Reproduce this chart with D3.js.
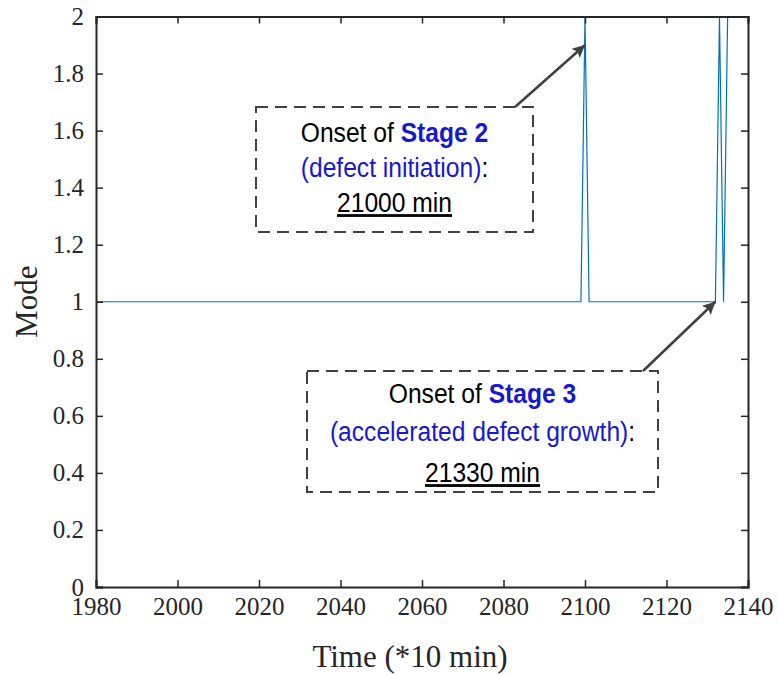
<!DOCTYPE html>
<html>
<head>
<meta charset="utf-8">
<script src="https://cdn.jsdelivr.net/npm/d3@7"></script>
<style>
  html, body { margin: 0; padding: 0; background: #fff; }
  svg { display: block; }
</style>
</head>
<body>
<svg id="chart" width="778" height="675"></svg>
<script>
// Operating mode of the monitored machine over time (sampled every 10 min)
const times = [1980, 2099, 2100, 2101, 2132, 2133, 2134, 2135, 2136];
const modes = [1, 1, 2, 1, 1, 2, 1, 2, 2];

const xTicks = [1980, 2000, 2020, 2040, 2060, 2080, 2100, 2120, 2140];
const yTicks = [0, 0.2, 0.4, 0.6, 0.8, 1, 1.2, 1.4, 1.6, 1.8, 2];

// Stage onsets pointed at by the callouts
const onsetTimes = [2100, 2132];
const onsetModes = [1.9, 1.0];
const stageNames = ["Stage 2", "Stage 3"];
const stageDescs = ["(defect initiation)", "(accelerated defect growth)"];
const onsetLabels = ["21000 min", "21330 min"];

const W = 778, H = 675;
const m = { left: 96, right: 30, top: 16.5, bottom: 88 };
const svg = d3.select("#chart");

const x = d3.scaleLinear().domain([1980, 2140]).range([m.left, W - m.right]);
const y = d3.scaleLinear().domain([0, 2]).range([H - m.bottom, m.top]);

const axisColor = "#262626";
const serif = "Liberation Serif, Times New Roman, serif";
const sans = "Liberation Sans, Arial, sans-serif";

// data line
const line = d3.line().x((d, i) => x(times[i])).y(d => y(d));
svg.append("path")
  .datum(modes)
  .attr("d", line)
  .attr("fill", "none")
  .attr("stroke", "#0072BD")
  .attr("stroke-width", 1.2);

// axes with inward ticks on all four sides
const tickLen = 7;
const fmtY = d => d3.format("~g")(d);
const bottomAxis = d3.axisBottom(x).tickValues(xTicks).tickSize(-tickLen).tickPadding(10).tickFormat(d3.format("d"));
const topAxis = d3.axisTop(x).tickValues(xTicks).tickSize(-tickLen).tickFormat("");
const leftAxis = d3.axisLeft(y).tickValues(yTicks).tickSize(-tickLen).tickPadding(12).tickFormat(fmtY);
const rightAxis = d3.axisRight(y).tickValues(yTicks).tickSize(-tickLen).tickFormat("");

function styleAxis(g) {
  g.attr("font-family", serif).attr("font-size", 25);
  g.select(".domain").attr("stroke", axisColor).attr("stroke-width", 2);
  g.selectAll(".tick line").attr("stroke", axisColor).attr("stroke-width", 1.5);
  g.selectAll(".tick text").attr("fill", axisColor);
}

svg.append("g").attr("transform", `translate(0,${y(0)})`).call(bottomAxis).call(styleAxis);
svg.append("g").attr("transform", `translate(0,${y(2)})`).call(topAxis).call(styleAxis);
svg.append("g").attr("transform", `translate(${x(1980)},0)`).call(leftAxis).call(styleAxis);
svg.append("g").attr("transform", `translate(${x(2140)},0)`).call(rightAxis).call(styleAxis);

// axis titles
svg.append("text")
  .attr("x", 410)
  .attr("y", 667)
  .attr("text-anchor", "middle")
  .attr("fill", axisColor)
  .attr("font-family", serif)
  .attr("font-size", 31)
  .text("Time (*10 min)");

svg.append("text")
  .attr("transform", `translate(37,${(y(0) + y(2)) / 2}) rotate(-90)`)
  .attr("text-anchor", "middle")
  .attr("fill", axisColor)
  .attr("font-family", serif)
  .attr("font-size", 31)
  .text("Mode");

// callout boxes
const boxes = [
  { x0: 256, y0: 107, x1: 533, y1: 232, tailX: 515, lines: [142, 177, 212] },
  { x0: 307, y0: 371, x1: 658, y1: 492, tailX: 643, lines: [403, 441, 482] }
];
const noteColor = "#404040";
const blue = "#1818d0";
const squeeze = 0.88;

svg.append("defs").append("marker")
  .attr("id", "head")
  .attr("viewBox", "0 0 10 10")
  .attr("refX", 10).attr("refY", 5)
  .attr("markerWidth", 6).attr("markerHeight", 5)
  .attr("markerUnits", "strokeWidth")
  .attr("orient", "auto")
  .append("path")
  .attr("d", "M0,0 L10,5 L0,10 L2,5 Z")
  .attr("fill", noteColor);

boxes.forEach((b, i) => {
  svg.append("rect")
    .attr("x", b.x0).attr("y", b.y0)
    .attr("width", b.x1 - b.x0).attr("height", b.y1 - b.y0)
    .attr("fill", "none")
    .attr("stroke", noteColor)
    .attr("stroke-width", 2)
    .attr("stroke-dasharray", "12,7");

  svg.append("line")
    .attr("x1", b.tailX).attr("y1", b.y0)
    .attr("x2", x(onsetTimes[i])).attr("y2", y(onsetModes[i]))
    .attr("stroke", noteColor)
    .attr("stroke-width", 2.5)
    .attr("marker-end", "url(#head)");

  const cx = (b.x0 + b.x1) / 2;
  const t = svg.append("g")
    .attr("font-family", sans)
    .attr("font-size", 28)
    .attr("text-anchor", "middle");

  const place = yy => `translate(${cx},${yy}) scale(${squeeze},1)`;

  const l1 = t.append("text").attr("transform", place(b.lines[0]));
  l1.append("tspan").attr("fill", "#000").text("Onset of ");
  l1.append("tspan").attr("fill", blue).attr("font-weight", "bold").text(stageNames[i]);

  const l2 = t.append("text").attr("transform", place(b.lines[1]));
  l2.append("tspan").attr("fill", blue).text(stageDescs[i]);
  l2.append("tspan").attr("fill", "#000").text(":");

  t.append("text").attr("transform", place(b.lines[2]))
    .attr("fill", "#000")
    .attr("text-decoration", "underline")
    .text(onsetLabels[i]);
});
</script>
</body>
</html>
